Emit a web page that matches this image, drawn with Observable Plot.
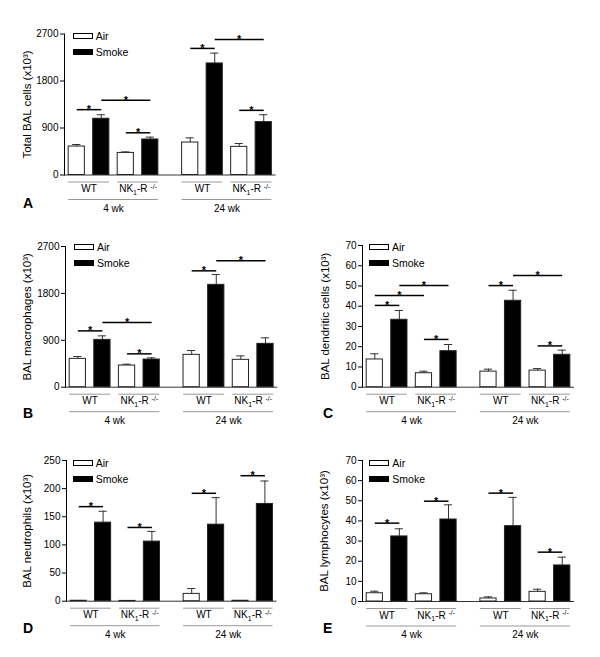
<!DOCTYPE html>
<html>
<head>
<meta charset="utf-8">
<script src="https://cdn.jsdelivr.net/npm/d3@7"></script>
<script src="https://cdn.jsdelivr.net/npm/@observablehq/plot@0.6"></script>
<style>
  body { margin: 0; background: #fff; }
  #fig { position: relative; width: 600px; height: 657px; font-family: "Liberation Sans", Arial, sans-serif; color: #000; }
  .panel { position: absolute; }
  .letter { position: absolute; font-weight: bold; font-size: 14px; line-height: 14px; }
  .sw { position: absolute; width: 20px; height: 6px; box-sizing: border-box; border: 1px solid #000; }
  .lt { position: absolute; font-size: 10.5px; line-height: 12px; white-space: nowrap; }
</style>
</head>
<body>
<div id="fig"></div>
<script>
const weeks = ["4 wk", "24 wk"];
const genotypes = ["WT", "NK1-R -/-"];
const exposures = ["Air", "Smoke"];

// bar order: 4 wk WT Air, 4 wk WT Smoke, 4 wk NK Air, 4 wk NK Smoke, then the same for 24 wk
const totalMean = [545, 1077, 423, 680, 622, 2136, 539, 1013];
const totalSem  = [39, 77, 19, 45, 90, 198, 64, 141];
const macroMean = [544, 908, 416, 531, 621, 1964, 525, 832];
const macroSem  = [45, 77, 25, 32, 83, 199, 76, 115];
const dcMean = [13.7, 33.3, 6.9, 17.8, 7.7, 42.7, 8.2, 16.0];
const dcSem  = [2.8, 4.6, 1.0, 3.3, 1.2, 5.2, 1.0, 2.3];
const neuMean = [0.8, 139.6, 0.5, 105.9, 13.0, 136.0, 0.8, 172.8];
const neuSem  = [0.4, 20.2, 0.3, 18.1, 9.5, 48.0, 0.4, 40.8];
const lymMean = [4.1, 32.3, 3.6, 40.7, 1.5, 37.4, 4.8, 17.9];
const lymSem  = [1.0, 3.8, 0.7, 7.3, 0.8, 14.3, 1.3, 4.1];

const cellTicks = [0, 900, 1800, 2700];
const dcTicks = [0, 10, 20, 30, 40, 50, 60, 70];
const neuTicks = [0, 50, 100, 150, 200, 250];
const lymTicks = [0, 10, 20, 30, 40, 50, 60, 70];

// significance brackets: [week, from bar, to bar, bracket height]
const totalSig = [
  ["4 wk", "WT Air", "WT Smoke", 1251], ["4 wk", "WT Smoke", "NK1-R -/- Smoke", 1430], ["4 wk", "NK1-R -/- Air", "NK1-R -/- Smoke", 808],
  ["24 wk", "WT Air", "WT Smoke", 2424], ["24 wk", "WT Smoke", "NK1-R -/- Smoke", 2597], ["24 wk", "NK1-R -/- Air", "NK1-R -/- Smoke", 1238]
];
const macroSig = [
  ["4 wk", "WT Air", "WT Smoke", 1081], ["4 wk", "WT Smoke", "NK1-R -/- Smoke", 1241], ["4 wk", "NK1-R -/- Air", "NK1-R -/- Smoke", 640],
  ["24 wk", "WT Air", "WT Smoke", 2233], ["24 wk", "WT Smoke", "NK1-R -/- Smoke", 2425]
];
const dcSig = [
  ["4 wk", "WT Air", "WT Smoke", 40.4], ["4 wk", "WT Air", "NK1-R -/- Air", 45.3], ["4 wk", "WT Smoke", "NK1-R -/- Smoke", 50.2], ["4 wk", "NK1-R -/- Air", "NK1-R -/- Smoke", 23.6],
  ["24 wk", "WT Air", "WT Smoke", 50.2], ["24 wk", "WT Smoke", "NK1-R -/- Smoke", 55.2], ["24 wk", "NK1-R -/- Air", "NK1-R -/- Smoke", 20.4]
];
const neuSig = [
  ["4 wk", "WT Air", "WT Smoke", 168], ["4 wk", "NK1-R -/- Air", "NK1-R -/- Smoke", 131],
  ["24 wk", "WT Air", "WT Smoke", 191.7], ["24 wk", "NK1-R -/- Air", "NK1-R -/- Smoke", 223]
];
const lymSig = [
  ["4 wk", "WT Air", "WT Smoke", 38.9], ["4 wk", "NK1-R -/- Air", "NK1-R -/- Smoke", 49.8],
  ["24 wk", "WT Air", "WT Smoke", 53.8], ["24 wk", "NK1-R -/- Air", "NK1-R -/- Smoke", 24.5]
];

const yLabels = ["Total BAL cells (x10³)", "BAL macrophages (x10³)", "BAL dendritic cells (x10³)", "BAL neutrophils (x10³)", "BAL lymphocytes (x10³)"];
const letters = ["A", "B", "C", "D", "E"];

const keys = genotypes.flatMap(g => exposures.map(e => `${g} ${e}`));
const W = 300, GAP = 15.4;
const fig = document.getElementById("fig");

function makePanel(c) {
  const rows = c.mean.map((m, i) => ({
    week: weeks[i >> 2], exposure: exposures[i & 1], key: keys[i & 3], mean: m, top: m + c.sem[i]
  }));
  const sigRows = c.sig.map(([week, from, to, y]) => ({week, from, to, y, span: keys.indexOf(to) - keys.indexOf(from)}));
  const groupRows = weeks.flatMap(w => genotypes.map(g => ({week: w, label: g, first: `${g} ${exposures[0]}`, last: `${g} ${exposures[1]}`})));
  const weekRows = weeks.map(w => ({week: w}));
  const plotW = W - c.mL - c.mR;
  const fxStep = (plotW + GAP) / 2;
  const half = (fxStep - GAP) / 8; // half of a bar step
  const f = {fx: "week"};
  const svg = Plot.plot({
    width: W, height: c.height,
    marginTop: c.mT, marginBottom: c.mB, marginLeft: c.mL, marginRight: c.mR,
    style: {fontFamily: "'Liberation Sans', Arial, sans-serif", fontSize: "10px", color: "#000", background: "transparent", overflow: "visible"},
    fx: {domain: weeks, paddingInner: GAP / fxStep, paddingOuter: 0, axis: null, round: false, label: null},
    x: {domain: keys, paddingInner: 0.34, paddingOuter: 0.17, axis: null, round: false},
    y: {domain: c.domain, ticks: c.ticks, tickFormat: "d", tickSize: 4, tickPadding: 2, line: true, label: null},
    color: {domain: exposures, range: ["#fff", "#000"]},
    marks: [
      Plot.ruleY(weekRows.slice(0, 1), {...f, y: () => 0, insetRight: -GAP, stroke: "#333"}),
      Plot.ruleY(weekRows.slice(1), {...f, y: () => 0, stroke: "#333"}),
      Plot.ruleY(groupRows, {...f, x1: "first", x2: "last", y: () => 0, dy: 7, stroke: "#999"}),
      Plot.ruleY(weekRows, {...f, x1: () => keys[0], x2: () => keys[keys.length - 1], y: () => 0, dy: 24.5, stroke: "#999"}),
      Plot.text(groupRows, {...f, x: "first", y: () => 0, text: "label", dx: half, dy: 14, lineAnchor: "middle", fontSize: 10}),
      Plot.text(weekRows, {...f, text: "week", frameAnchor: "bottom", dy: 33.5, lineAnchor: "middle", fontSize: 10}),
      Plot.text([c.label], {fx: () => weeks[0], text: d => d, frameAnchor: "left", textAnchor: "middle", rotate: -90, dx: c.labelDx, lineAnchor: "middle", fontSize: 11.5}),
      Plot.ruleX(rows, {...f, x: "key", y1: "mean", y2: "top", stroke: "#333"}),
      Plot.tickY(rows, {...f, x: "key", y: "top", insetLeft: 4, insetRight: 4, stroke: "#333"}),
      Plot.barY(rows, {...f, x: "key", y: "mean", fill: "exposure", stroke: "#222", strokeWidth: 1}),
      Plot.link(sigRows, {...f, x1: "from", x2: "to", y1: "y", y2: "y", stroke: "#000", strokeWidth: 1.5}),
      Plot.text(sigRows.filter(d => d.span === 1), {...f, x: "from", y: "y", text: () => "*", dx: half, dy: 3.5, lineAnchor: "bottom", fontSize: 11, fontWeight: "bold"}),
      Plot.text(sigRows.filter(d => d.span === 2), {...f, x: "from", y: "y", text: () => "*", dx: 2 * half, dy: 3.5, lineAnchor: "bottom", fontSize: 11, fontWeight: "bold"})
    ]
  });
  // genotype label with subscript 1 and superscript -/-
  d3.select(svg).selectAll("text").filter(function() { return this.textContent === genotypes[1]; }).each(function() {
    const t = d3.select(this);
    t.text(null);
    t.append("tspan").text("NK");
    t.append("tspan").attr("dy", 2.5).attr("font-size", 7).text("1");
    t.append("tspan").attr("dy", -2.5).text("-R ");
    t.append("tspan").attr("dy", -3.5).attr("font-size", 7).text("-/-");
  });
  const div = document.createElement("div");
  div.className = "panel";
  div.style.left = c.left + "px";
  div.style.top = c.top + "px";
  div.appendChild(svg);
  fig.appendChild(div);
  // legend
  exposures.forEach((e, i) => {
    const sw = document.createElement("div");
    sw.className = "sw";
    const lx = c.left + c.mL + c.legend[0], ly = c.top + c.mT + c.legend[1] + i * 16;
    sw.style.left = lx + "px";
    sw.style.top = ly + "px";
    sw.style.background = i === 0 ? "#fff" : "#000";
    fig.appendChild(sw);
    const lt = document.createElement("div");
    lt.className = "lt";
    lt.textContent = e;
    lt.style.left = (lx + 23) + "px";
    lt.style.top = (ly + 3 - 5.85) + "px";
    fig.appendChild(lt);
  });
  const L = document.createElement("div");
  L.className = "letter";
  L.textContent = c.letter;
  L.style.left = (c.left + 23) + "px";
  L.style.top = (c.top + c.letterY - 6.85) + "px";
  fig.appendChild(L);
}

const panels = [
  {letter: letters[0], label: yLabels[0], left: 0, top: 0, height: 220, mT: 33.5, mB: 45.5, mL: 64, mR: 24.5, domain: [0, 2700], ticks: cellTicks, mean: totalMean, sem: totalSem, sig: totalSig, labelDx: -37, legend: [8.7, -0.2], letterY: 202.7},
  {letter: letters[1], label: yLabels[1], left: 0, top: 220, height: 230, mT: 26, mB: 63.3, mL: 65, mR: 22.7, domain: [0, 2700], ticks: cellTicks, mean: macroMean, sem: macroSem, sig: macroSig, labelDx: -38, legend: [9, -1.7], letterY: 193.3},
  {letter: letters[2], label: yLabels[2], left: 300, top: 220, height: 230, mT: 25, mB: 63.3, mL: 62, mR: 26, domain: [0, 70], ticks: dcTicks, mean: dcMean, sem: dcSem, sig: dcSig, labelDx: -37, legend: [7, -0.7], letterY: 193},
  {letter: letters[3], label: yLabels[3], left: 0, top: 450, height: 207, mT: 10, mB: 56.3, mL: 66, mR: 23.4, domain: [0, 250], ticks: neuTicks, mean: neuMean, sem: neuSem, sig: neuSig, labelDx: -39, legend: [6.7, 0], letterY: 178.3},
  {letter: letters[4], label: yLabels[4], left: 300, top: 450, height: 207, mT: 10, mB: 56, mL: 62, mR: 26, domain: [0, 70], ticks: lymTicks, mean: lymMean, sem: lymSem, sig: lymSig, labelDx: -38.5, legend: [7.3, 0], letterY: 178.3}
];
panels.forEach(makePanel);
</script>
</body>
</html>
